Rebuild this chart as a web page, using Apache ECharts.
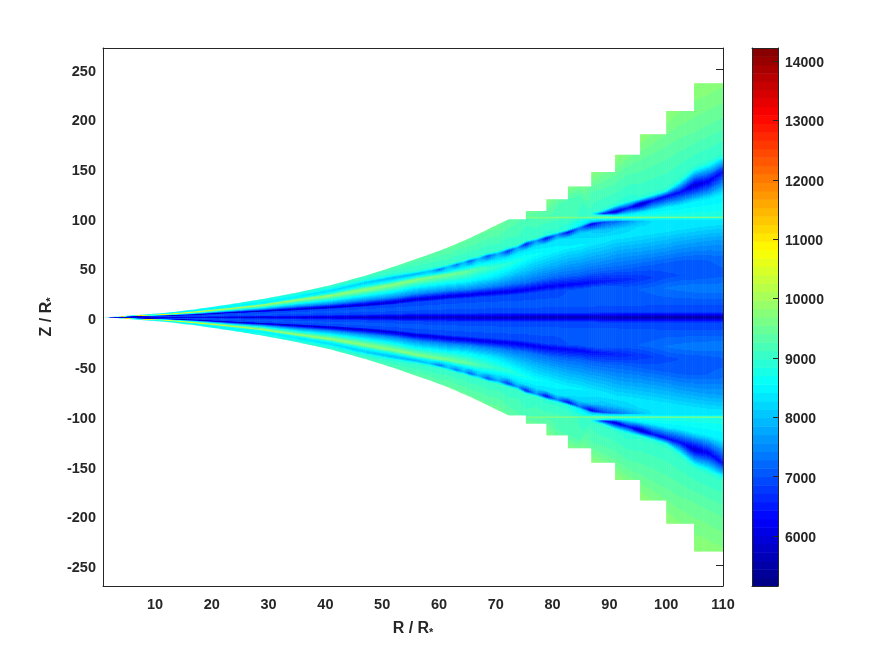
<!DOCTYPE html>
<html><head><meta charset="utf-8">
<style>html,body{margin:0;padding:0;background:#fff}#c{width:879px;height:658px}</style>
<script src="https://cdn.jsdelivr.net/npm/echarts@6/dist/echarts.min.js"></script>
</head><body><div id="c"></div>
<script>
const xTicks=[10,20,30,40,50,60,70,80,90,100,110];
const zTicks=[-250,-200,-150,-100,-50,0,50,100,150,200,250];
const barTicks=[6000,7000,8000,9000,10000,11000,12000,13000,14000];
const vMin=5160, vMax=14220, levelCount=64;
const jetStops=['#000080','#0000ff','#0080ff','#00ffff','#80ff80','#ffff00','#ff8000','#ff0000','#800000'];
const stairEdges=[72.2,75.3,78.9,82.7,86.8,91,95.4,100,104.9,110];
const stairTops=[98.8,107.2,119,132,146.6,164,184.5,208,236];
const columnsR=[1.2,3,5,8,12,17,23,29,35,41,47,52,56,58.3,60.2,61.7,63,64.3,65.5,67,68.6,70.4,72.2,73.8,75.3,77.1,78.9,80.8,82.7,84.8,86.8,88.9,91,93.2,95.4,97.7,100,102.4,104.9,107.5,110];
const columnsZ=[
[0,.02,.03,.04,.05,.06,.07,.08,.09,.1,.11,.12],
[0,.06,.1,.15,.2,.25,.3,.35,.4,.45,.5,.55],
[0,.2,.3,.45,.6,.8,1,1.2,1.3,1.4,1.5,1.6],
[0,.3,.5,.85,1,1.3,1.7,2,2.2,2.4,2.6,2.8],
[0,.5,.8,1.35,1.6,2,2.5,3,3.4,3.8,4.2,4.6],
[0,.8,1.4,2.2,2.6,3.4,4.5,5.5,6.2,6.8,7.4,8],
[0,1.2,2.2,3.9,4.6,5.8,7.3,8.7,9.8,10.8,11.8,13],
[0,1.6,3,5.3,6.2,8,10.3,12.5,13.8,15,16.3,18.5],
[0,2,4,6.8,8,11,14.5,17.5,19.5,21,22.8,25],
[0,2.5,5,8.5,10,13.5,18,22,25,27,29.5,32.5],
[0,3,6,10.5,12.4,17,22.5,28,32,35,37.5,42],
[0,3.5,7,12.7,15,20,26.5,33,37,40,43,51],
[0,4,8,15.2,18,23.5,31,38,41.5,44,46.5,59],
[0,4,8.5,16,19,25,32.5,40,43.5,46.5,49,63.5],
[0,4,9,17,20,26,33.5,42,45,48.4,51,67.5],
[0,4.2,9.3,17.8,21,27,34.5,43,46.5,51,53.5,70.8],
[0,4.2,9.5,18.2,21.5,27.5,35,44.5,48.5,53,55.5,74],
[0,4.3,9.8,18.7,22,28,36,45.5,50,55,57.5,77.3],
[0,4.3,10,19.1,22.5,28.5,36.5,47,51.5,56.8,59.5,80.3],
[0,4.4,10.2,20,23.5,29.5,38,48.5,54,59,62,84.3],
[0,4.4,10.5,20.4,24,30.5,39,49.5,56,61.8,64.5,88.8],
[0,4.5,10.8,21.2,25,31.5,40.5,51.5,58,64,67,93.8],
[0,4.5,11,21.7,25.5,33,43,54,61,66.8,70,98,98.8],
[0,4.5,11,22.5,26.5,34,45,57,65,70,73,99,100.5,102,103.5],
[0,4.5,11,23.4,27.5,35,47,60,68,73.9,77,99,100.5,102,107],
[0,4.5,11.5,24.6,29,37,49,63,71,77,80,99,100.5,102,113],
[0,4.5,12,26,30.5,39,51,65,74,79.6,83,99,100.5,102,119],
[0,4.5,12,26.8,31.5,40.5,53,68,78,83,86,99,100.5,102,110,125.5],
[0,4.5,12.5,27.6,32.5,42,55,70,80,85.7,88.5,99,100.5,102,115,132],
[0,4.5,12.5,28.5,33.5,43,57,72,84,90,92.5,99,100.5,102,120,139.5],
[0,4.5,13,29.7,35,45,59,75,87,94,96,99,100.5,102,103,104,106,125,147],
[0,5,13,30.5,36,47,61,78,88,96,97.5,99,100.5,102,103,104.5,108,132,155.5],
[0,5,13,30,37,48,63,80.5,89,96.5,98,99,100.5,102,102.8,106,113,140,164],
[0,5,14,29,38,49,65,82,90,97,98,99.2,100.5,102,104,110,117,150,174],
[0,5,14,28.5,39,50,66,84,91,97,98,99.2,100.5,102,106,114,120,158,184.5],
[0,5,14.5,29,40,52,68,86,92,97,98,99.3,100.5,102,108,118,124,165,196],
[0,5,15,29.5,41,54,70,88,93,97,98,99.3,100.5,102,111,122,128,172,208],
[0,5,15,30,42,56,73,90,94,97,98,99.3,100.5,102,113,126,138,180,222],
[0,5,15,30,42.5,57,75,92,95,97,98,99.3,100.5,102,117,133,150,190,236],
[0,5,15,29,43,58,77,94,95.5,97,98,99.3,100.5,102,120,137,156,198,243],
[0,5,15,29,43,58,78,95,96,97,98,99.3,100.5,102,125,147,163,205,250]
];
const columnsV=[
[5800,5800,5900,5900,5800,6500,7500,8500,8500,8000,8000,8000],
[5400,5800,6000,5900,5400,7000,9500,11800,10500,9500,9000,8800],
[5500,6100,6400,6000,5400,7200,9800,12000,10000,9000,8700,8600],
[5700,6500,6700,6300,5450,7300,9600,11200,9500,8800,8600,8500],
[5800,6700,6900,6500,5550,7400,9400,10900,9200,8600,8550,8550],
[5850,6800,7000,6700,5600,7400,9200,10600,9000,8500,8600,8650],
[5900,6850,7050,6850,5650,7450,9000,10300,8800,8500,8650,8750],
[5900,6850,7050,6900,5700,7500,8900,10050,8700,8450,8700,8850],
[5900,6850,7050,6950,5750,7500,8800,9950,8600,8400,8750,8950],
[5850,6850,7050,6950,5800,7500,8750,9900,8600,8250,8800,9100],
[5800,6850,7050,6950,5850,7500,8700,9850,8550,8100,8850,9200],
[5750,6850,7050,6950,5900,7500,8650,9800,8500,7950,8900,9300],
[5700,6850,7050,6950,5950,7500,8600,9750,8450,7850,8950,9350],
[5700,6850,7050,6950,5970,7500,8600,9700,8450,8100,8950,9400],
[5700,6850,7050,6950,5980,7500,8550,9650,8400,7300,8950,9400],
[5700,6850,7050,6950,6000,7500,8550,9600,8450,8100,9000,9450],
[5700,6850,7050,6950,6020,7500,8550,9550,8400,7300,8950,9450],
[5700,6850,7050,6950,6030,7500,8550,9500,8450,8000,9000,9450],
[5700,6850,7050,6950,6050,7500,8500,9400,8400,7100,8950,9450],
[5700,6850,7050,6950,6060,7450,8450,9250,8450,8000,9000,9450],
[5700,6850,7050,6950,6080,7450,8400,9100,8400,7000,8950,9450],
[5680,6850,7050,6950,6100,7400,8300,9000,8400,7900,9000,9500],
[5670,6850,7050,6950,6120,7350,8200,8900,8300,6700,8950,9400,9400],
[5660,6850,7050,6950,6140,7300,8100,8800,8350,7800,9050,9300,9500,9450,9450],
[5650,6850,7050,6950,6150,7300,8050,8700,8300,6500,8950,9200,9650,9400,9500],
[5640,6850,7050,6950,6180,7250,7950,8600,8350,7700,9050,9200,9700,9300,9600],
[5630,6850,7050,6950,6200,7250,7900,8550,8300,6300,8900,9200,9700,9250,9700],
[5620,6850,7050,6950,6250,7200,7850,8500,8300,7500,8950,9150,9750,9200,9200,9600],
[5610,6850,7050,7000,6270,7200,7800,8450,8250,6300,8800,9100,9750,9200,9150,9700],
[5600,6850,7050,7000,6330,7200,7800,8450,8200,7400,8500,8900,9700,9100,9150,9750],
[5590,6850,7050,7050,6350,7150,7750,8400,8100,6100,7900,8700,9700,9100,9050,9000,9050,9250,9800],
[5570,6850,7050,7100,6450,7150,7750,8400,8000,6900,8100,8600,9700,9000,8600,6600,8950,9300,9800],
[5550,6850,7050,7100,6550,7150,7700,8350,8100,7200,8250,8500,9700,8900,8400,5800,8950,9350,9850],
[5530,6850,7050,7100,6650,7150,7700,8350,8200,7600,8350,8500,9700,8800,8350,6500,8900,9350,9850],
[5510,6850,7050,7150,6750,7100,7700,8350,8300,8000,8400,8500,9700,8800,8350,5700,8950,9400,9850],
[5500,6850,7050,7200,6850,7100,7700,8350,8350,8300,8400,8500,9700,8800,8400,6400,8950,9400,9850],
[5480,6850,7050,7300,6950,7100,7700,8350,8350,8350,8400,8500,9700,8800,8400,6300,8950,9400,9850],
[5470,6850,7050,7350,7000,7100,7700,8350,8350,8350,8400,8500,9700,8800,8400,6400,8950,9400,9850],
[5460,6850,7050,7400,7000,7100,7700,8350,8350,8350,8400,8500,9700,8800,8400,5900,8950,9450,9850],
[5450,6850,7050,7400,7050,7150,7700,8350,8350,8350,8400,8500,9700,8800,8400,6200,8950,9450,9850],
[5450,6850,7050,7400,7100,7200,7700,8350,8350,8350,8400,8500,9700,8800,8400,6400,8950,9450,9850]
];

const levelColors=Array.from({length:levelCount},(_,i)=>echarts.color.lerp((i+0.5)/levelCount,jetStops));
const levelOf=v=>Math.max(0,Math.min(levelCount-1,Math.floor((v-vMin)/(vMax-vMin)*levelCount)));
const boundaryOf=l=>vMin+l*(vMax-vMin)/levelCount;
function padded(row,n){const r=row.slice();while(r.length<n)r.push(row[row.length-1]);return r;}
const nodeCount=19;
const zRows=columnsZ.map(r=>padded(r,nodeCount));
const vRows=columnsV.map(r=>padded(r,nodeCount));
function stripTop(r0,r1){
  for(let i=0;i<stairTops.length;i++){if(r0>=stairEdges[i]-1e-6&&r1<=stairEdges[i+1]+1e-6)return stairTops[i];}
  return Infinity;
}
const stripData=[];
for(let j=0;j<columnsR.length-1;j++){
  const t=stripTop(columnsR[j],columnsR[j+1]);
  stripData.push([columnsR[j],columnsR[j+1],j,isFinite(t)?t:-1]);
}
function sliceStops(zs,vs,top){
  const edges=[];let last=levelOf(vs[0]);
  for(let i=0;i<zs.length-1;i++){
    const z0=zs[i],z1=zs[i+1],v0=vs[i],v1=vs[i+1];
    const l0=levelOf(v0),l1=levelOf(v1);
    if(z1<=z0)continue;
    const step=l1>l0?1:-1;
    for(let l=l0;l!==l1;l+=step){
      const b=boundaryOf(l1>l0?l+1:l);
      const z=z0+(b-v0)/(v1-v0)*(z1-z0);
      if(z<top){edges.push([z,l,l+step]);last=l+step;}
    }
  }
  const stops=[{offset:0,color:levelColors[last]}];
  for(let i=edges.length-1;i>=0;i--){
    const o=(top-edges[i][0])/(2*top);
    stops.push({offset:o,color:levelColors[edges[i][2]]},{offset:o,color:levelColors[edges[i][1]]});
  }
  for(let i=0;i<edges.length;i++){
    const o=(top+edges[i][0])/(2*top);
    stops.push({offset:o,color:levelColors[edges[i][1]]},{offset:o,color:levelColors[edges[i][2]]});
  }
  stops.push({offset:1,color:levelColors[last]});
  return stops;
}
function renderStrip(params,api){
  const r0=api.value(0),r1=api.value(1),j=api.value(2),clamp=api.value(3);
  const px0=api.coord([r0,0])[0],px1=api.coord([r1,0])[0];
  const n=Math.max(1,Math.ceil((px1-px0)/2));
  const children=[];
  const zL=zRows[j],zR=zRows[j+1],vL=vRows[j],vR=vRows[j+1];
  const limit=clamp>0?clamp:Infinity;
  const last=nodeCount-1;
  for(let s=0;s<n;s++){
    const a=s/n,b=(s+1)/n,m=(a+b)/2;
    const zs=zL.map((q,i)=>q+(zR[i]-q)*m);
    const vs=vL.map((q,i)=>q+(vR[i]-q)*m);
    const top=Math.min(zs[last],limit);
    const tA=Math.min(zL[last]+(zR[last]-zL[last])*a,limit);
    const tB=Math.min(zL[last]+(zR[last]-zL[last])*b,limit);
    if(top<=0)continue;
    const xA=px0+(px1-px0)*a;
    const xB=Math.min(px0+(px1-px0)*b+0.6,api.coord([110,0])[0]);
    const yTop=api.coord([r0,top])[1],yBot=api.coord([r0,-top])[1];
    const grad=new echarts.graphic.LinearGradient(0,yTop,0,yBot,sliceStops(zs,vs,top),true);
    children.push({type:'polygon',shape:{points:[
      [xA,api.coord([r0,tA])[1]],[xB,api.coord([r0,tB])[1]],
      [xB,api.coord([r0,-tB])[1]],[xA,api.coord([r0,-tA])[1]]]},
      style:{fill:grad},silent:true});
  }
  return {type:'group',children};
}
const barData=levelColors.map((c,i)=>[boundaryOf(i),boundaryOf(i+1),i]);
function renderBar(params,api){
  const a=api.coord([0,api.value(0)]),b=api.coord([1,api.value(1)]);
  return {type:'rect',shape:{x:a[0],y:b[1],width:b[0]-a[0],height:a[1]-b[1]+0.5},
    style:{fill:levelColors[api.value(2)]},silent:true};
}
const ink='#262626', font='"Liberation Sans",Arial,sans-serif';
const plain=v=>String(v);
const lowered=v=>'{n|'+v+'}';
const chart=echarts.init(document.getElementById('c'),null,{renderer:'canvas'});
const lineOnly={show:true,onZero:false,lineStyle:{color:ink,width:1}};
const nameStyle={rich:{m:{fontFamily:font,fontWeight:'bold',fontSize:16,color:ink},
  s:{fontFamily:font,fontWeight:'bold',fontSize:11,color:ink,padding:[8,0,0,0]}}};
chart.setOption({
  backgroundColor:'#fff',animation:false,
  grid:[{left:103,top:48,width:620,height:538},{left:752,top:48,width:26,height:538}],
  xAxis:[
    {gridIndex:0,type:'value',min:0.85,max:110,position:'bottom',z:10,axisLine:lineOnly,axisTick:{show:false},splitLine:{show:false},
     axisLabel:{customValues:xTicks,formatter:plain,margin:11,fontFamily:font,fontWeight:'bold',fontSize:14.5,color:ink},
     name:'{m|R / R}{s|*}',nameLocation:'middle',nameGap:33,nameTextStyle:nameStyle},
    {gridIndex:0,type:'value',min:0.85,max:110,position:'top',z:10,axisLine:lineOnly,axisTick:{show:false},axisLabel:{show:false},splitLine:{show:false}},
    {gridIndex:1,type:'value',min:0,max:1,position:'bottom',z:10,axisLine:lineOnly,axisTick:{show:false},axisLabel:{show:false},splitLine:{show:false}},
    {gridIndex:1,type:'value',min:0,max:1,position:'top',z:10,axisLine:lineOnly,axisTick:{show:false},axisLabel:{show:false},splitLine:{show:false}}
  ],
  yAxis:[
    {gridIndex:0,type:'value',min:-270.8,max:271.5,position:'left',z:10,axisLine:lineOnly,axisTick:{show:false},splitLine:{show:false},
     axisLabel:{customValues:zTicks,formatter:lowered,margin:7,rich:{n:{fontFamily:font,fontWeight:'bold',fontSize:14.5,color:ink,padding:[5,0,0,0]}}},
     name:'{m|Z / R}{s|*}',nameLocation:'middle',nameGap:47,nameRotate:90,nameTextStyle:nameStyle},
    {gridIndex:0,type:'value',min:-270.8,max:271.5,position:'right',z:0,axisLine:{show:false},splitLine:{show:false},axisLabel:{show:false},
     axisTick:{show:true,inside:true,length:7,customValues:zTicks,lineStyle:{color:ink,width:1}}},
    {gridIndex:0,type:'value',min:-270.8,max:271.5,position:'right',z:10,axisLine:lineOnly,axisTick:{show:false},axisLabel:{show:false},splitLine:{show:false}},
    {gridIndex:1,type:'value',min:vMin,max:vMax,position:'right',z:10,axisLine:lineOnly,splitLine:{show:false},
     axisTick:{show:true,inside:true,length:5,customValues:barTicks,lineStyle:{color:ink,width:1}},
     axisLabel:{customValues:barTicks,formatter:lowered,margin:7,rich:{n:{fontFamily:font,fontWeight:'bold',fontSize:14,color:ink,padding:[4,0,0,0]}}}},
    {gridIndex:1,type:'value',min:vMin,max:vMax,position:'left',z:10,axisLine:lineOnly,axisTick:{show:false},axisLabel:{show:false},splitLine:{show:false}}
  ],
  series:[
    {type:'custom',xAxisIndex:0,yAxisIndex:0,data:stripData,renderItem:renderStrip,silent:true,z:2,encode:{x:[0,1],y:[3]}},
    {type:'custom',xAxisIndex:2,yAxisIndex:3,data:barData,renderItem:renderBar,silent:true,z:2,encode:{y:[0,1]}}
  ]
});
</script></body></html>
